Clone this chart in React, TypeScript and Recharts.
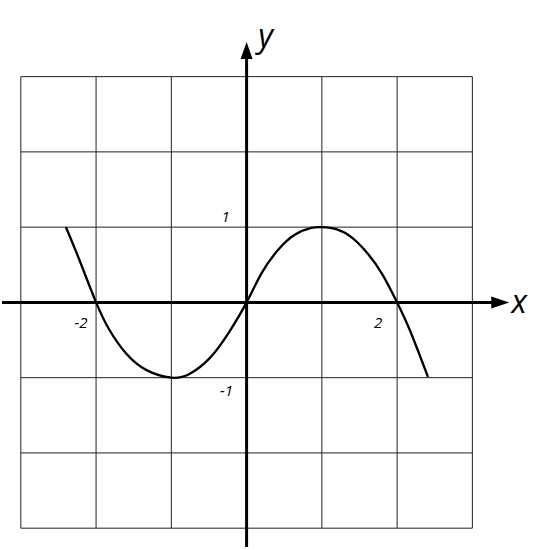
import { LineChart, Line, XAxis, YAxis, ReferenceLine, ReferenceDot } from 'recharts';

// Curve samples (x, y)
const curveX = [-2.4, -2.22, -2.0, -1.82, -1.6, -1.33, -1.0, -0.76, -0.49, -0.23, 0, 0.2, 0.42, 0.64, 0.86, 1.0, 1.2, 1.4, 1.6, 1.8, 2.0, 2.17, 2.41];
const curveY = [1.0, 0.56, 0, -0.37, -0.68, -0.9, -1.0, -0.95, -0.74, -0.39, 0, 0.39, 0.7, 0.9, 0.99, 1.0, 0.97, 0.86, 0.66, 0.38, 0, -0.37, -0.99];

// Grid cells run from -3 to 3 on both axes
const gridLines = [-3, -2, -1, 1, 2, 3];

// Tick labels drawn next to the axes
const xTicks = [-2, 2];
const yTicks = [1, -1];

const data = curveX.map((x, i) => ({ x, y: curveY[i] }));

const W = 549;
const H = 550;
const labelFont = '"Open Sans", sans-serif';

const xArrow = (p: any) => (
  <polygon
    points={`${p.cx},${p.cy} ${p.cx - 18},${p.cy - 6} ${p.cx - 18},${p.cy + 6}`}
    fill="#000"
  />
);

const yArrow = (p: any) => (
  <polygon
    points={`${p.cx},${p.cy} ${p.cx - 6},${p.cy + 17} ${p.cx + 6},${p.cy + 17}`}
    fill="#000"
  />
);

const tickText = (label: string, dx: number, dy: number) => (p: any) => (
  <text
    x={p.cx + dx}
    y={p.cy + dy}
    textAnchor="middle"
    dominantBaseline="central"
    fontFamily={labelFont}
    fontStyle="italic"
    fontSize={15}
    fill="#000"
  >
    {label}
  </text>
);

const axisName = (label: string, dx: number, dy: number) => (p: any) => (
  <text
    x={p.cx + dx}
    y={p.cy + dy}
    textAnchor="middle"
    fontFamily={labelFont}
    fontStyle="italic"
    fontSize={32}
    fill="#000"
  >
    {label}
  </text>
);

export default function App() {
  return (
    <div style={{ position: 'absolute', left: 0, top: 0, background: '#fff' }}>
      <LineChart width={W} height={H} data={data} margin={{ top: 39, right: 39, bottom: 3, left: 2 }}>
        <XAxis dataKey="x" type="number" domain={[-3.25, 3.5]} hide allowDataOverflow />
        <YAxis type="number" domain={[-3.25, 3.5]} hide allowDataOverflow />

        {gridLines.map((v) => (
          <ReferenceLine
            key={`gv${v}`}
            segment={[{ x: v, y: -3 }, { x: v, y: 3 }]}
            stroke="#222"
            strokeWidth={1}
          />
        ))}
        {gridLines.map((v) => (
          <ReferenceLine
            key={`gh${v}`}
            segment={[{ x: -3, y: v }, { x: 3, y: v }]}
            stroke="#222"
            strokeWidth={1}
          />
        ))}

        {/* axes */}
        <ReferenceLine segment={[{ x: -3.25, y: 0 }, { x: 3.26, y: 0 }]} stroke="#000" strokeWidth={3} />
        <ReferenceLine segment={[{ x: 0, y: -3.25 }, { x: 0, y: 3.24 }]} stroke="#000" strokeWidth={3} />
        <ReferenceDot x={3.49} y={0} r={0} shape={xArrow} />
        <ReferenceDot x={0} y={3.46} r={0} shape={yArrow} />

        <Line
          type="natural"
          dataKey="y"
          stroke="#000"
          strokeWidth={2.3}
          dot={false}
          isAnimationActive={false}
        />

        {xTicks.map((v) => (
          <ReferenceDot key={`xt${v}`} x={v} y={0} r={0} shape={tickText(String(v), v < 0 ? -15 : -19, 20)} />
        ))}
        {yTicks.map((v) => (
          <ReferenceDot key={`yt${v}`} x={0} y={v} r={0} shape={tickText(String(v), v < 0 ? -20 : -21, v < 0 ? 12 : -11)} />
        ))}

        <ReferenceDot x={3.49} y={0} r={0} shape={axisName('x', 10, 11)} ifOverflow="visible" />
        <ReferenceDot x={0} y={3.46} r={0} shape={axisName('y', 19, 5)} ifOverflow="visible" />
      </LineChart>
    </div>
  );
}
